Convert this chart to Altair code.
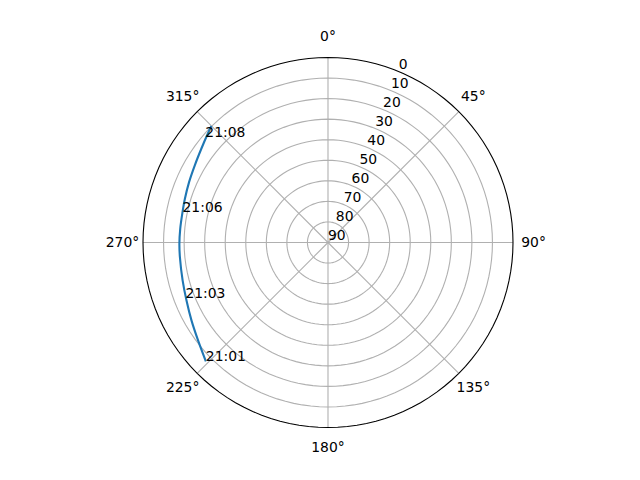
import altair as alt
import pandas as pd
import numpy as np

# ---- data (azimuth deg clockwise from north, elevation deg)
track_az = [225.8, 232.9, 240.2, 247.7, 255.3, 264.3, 269.5, 275.3, 281.8, 287.0, 293.5, 300.1, 306.6, 312.4, 315.0]
track_el = [7.1, 10.8, 13.5, 15.6, 16.9, 17.6, 17.7, 17.8, 17.7, 17.2, 16.3, 15.1, 13.3, 11.0, 9.8]

time_labels = ["21:01", "21:03", "21:06", "21:08"]
time_az = [225.8, 248.8, 281.8, 310.6]
time_el = [7.1, 15.6, 17.7, 11.4]

theta_ticks = [0, 45, 90, 135, 180, 225, 270, 315]
theta_labels = ["0°", "45°", "90°", "135°", "180°", "225°", "270°", "315°"]
r_ticks = [0, 10, 20, 30, 40, 50, 60, 70, 80, 90]

FONT = "DejaVu Sans"
FS = 13.9
GRID = "#b0b0b0"
W = 370

xs = alt.Scale(domain=[-90, 90], nice=False, zero=False)
ys = alt.Scale(domain=[-90, 90], nice=False, zero=False)


def polar(ch, az="az", el="el"):
    return ch.transform_calculate(
        px=f"(90 - datum.{el}) * sin(datum.{az} * PI / 180)",
        py=f"(90 - datum.{el}) * cos(datum.{az} * PI / 180)",
    )


X = alt.X("px:Q", scale=xs, axis=None)
Y = alt.Y("py:Q", scale=ys, axis=None)

# grid rings (elevation 10..80) and outer spine (elevation 0)
ang = list(range(0, 361, 3))
rings = pd.DataFrame([{"ring": r, "az": a, "el": r} for r in r_ticks[1:-1] for a in ang])
spine = pd.DataFrame([{"ring": 0, "az": a, "el": 0} for a in ang])

ring_layer = polar(alt.Chart(rings).mark_line(color=GRID, strokeWidth=1.1)).encode(
    x=X, y=Y, detail="ring:N", order="az:Q"
)
spine_layer = polar(alt.Chart(spine).mark_line(color="black", strokeWidth=1.1)).encode(
    x=X, y=Y, order="az:Q"
)

spokes = pd.DataFrame({"az": theta_ticks, "el": [0] * 8, "el0": [90] * 8})
spoke_layer = (
    alt.Chart(spokes)
    .mark_rule(color=GRID, strokeWidth=1.1)
    .transform_calculate(
        px="(90 - datum.el) * sin(datum.az * PI / 180)",
        py="(90 - datum.el) * cos(datum.az * PI / 180)",
        px0="(90 - datum.el0) * sin(datum.az * PI / 180)",
        py0="(90 - datum.el0) * cos(datum.az * PI / 180)",
    )
    .encode(x=alt.X("px0:Q", scale=xs, axis=None), y=alt.Y("py0:Q", scale=ys, axis=None), x2="px:Q", y2="py:Q")
)

track = pd.DataFrame({"i": range(len(track_az)), "az": track_az, "el": track_el})
track_layer = polar(
    alt.Chart(track).mark_line(color="#1f77b4", strokeWidth=2.1, interpolate="catmull-rom")
).encode(x=X, y=Y, order="i:Q")

tl = pd.DataFrame({"t": time_labels, "az": time_az, "el": time_el})
time_layer = polar(
    alt.Chart(tl).mark_text(align="left", baseline="alphabetic", font=FONT, fontSize=FS, color="black")
).encode(x=X, y=Y, text="t:N")

thl = pd.DataFrame({"t": theta_labels, "az": theta_ticks, "el": [-10] * 8})
theta_layer = polar(
    alt.Chart(thl).mark_text(align="center", baseline="middle", font=FONT, fontSize=FS, color="black")
).encode(x=X, y=Y, text="t:N")

rl = pd.DataFrame({"t": [str(v) for v in r_ticks], "az": [22.5] * len(r_ticks), "el": r_ticks})
r_layer = polar(
    alt.Chart(rl).mark_text(align="left", baseline="bottom", font=FONT, fontSize=FS, color="black")
).encode(x=X, y=Y, text="t:N")

chart = (
    alt.layer(ring_layer, spoke_layer, spine_layer, track_layer, time_layer, theta_layer, r_layer)
    .properties(
        width=W,
        height=W,
        autosize=alt.AutoSizeParams(type="none"),
        padding={"left": 135, "top": 49.5, "right": 100, "bottom": 40},
        background="white",
    )
    .configure_view(strokeWidth=0)
)

chart.save("out.html", embed_options={"renderer": "svg", "actions": False})
